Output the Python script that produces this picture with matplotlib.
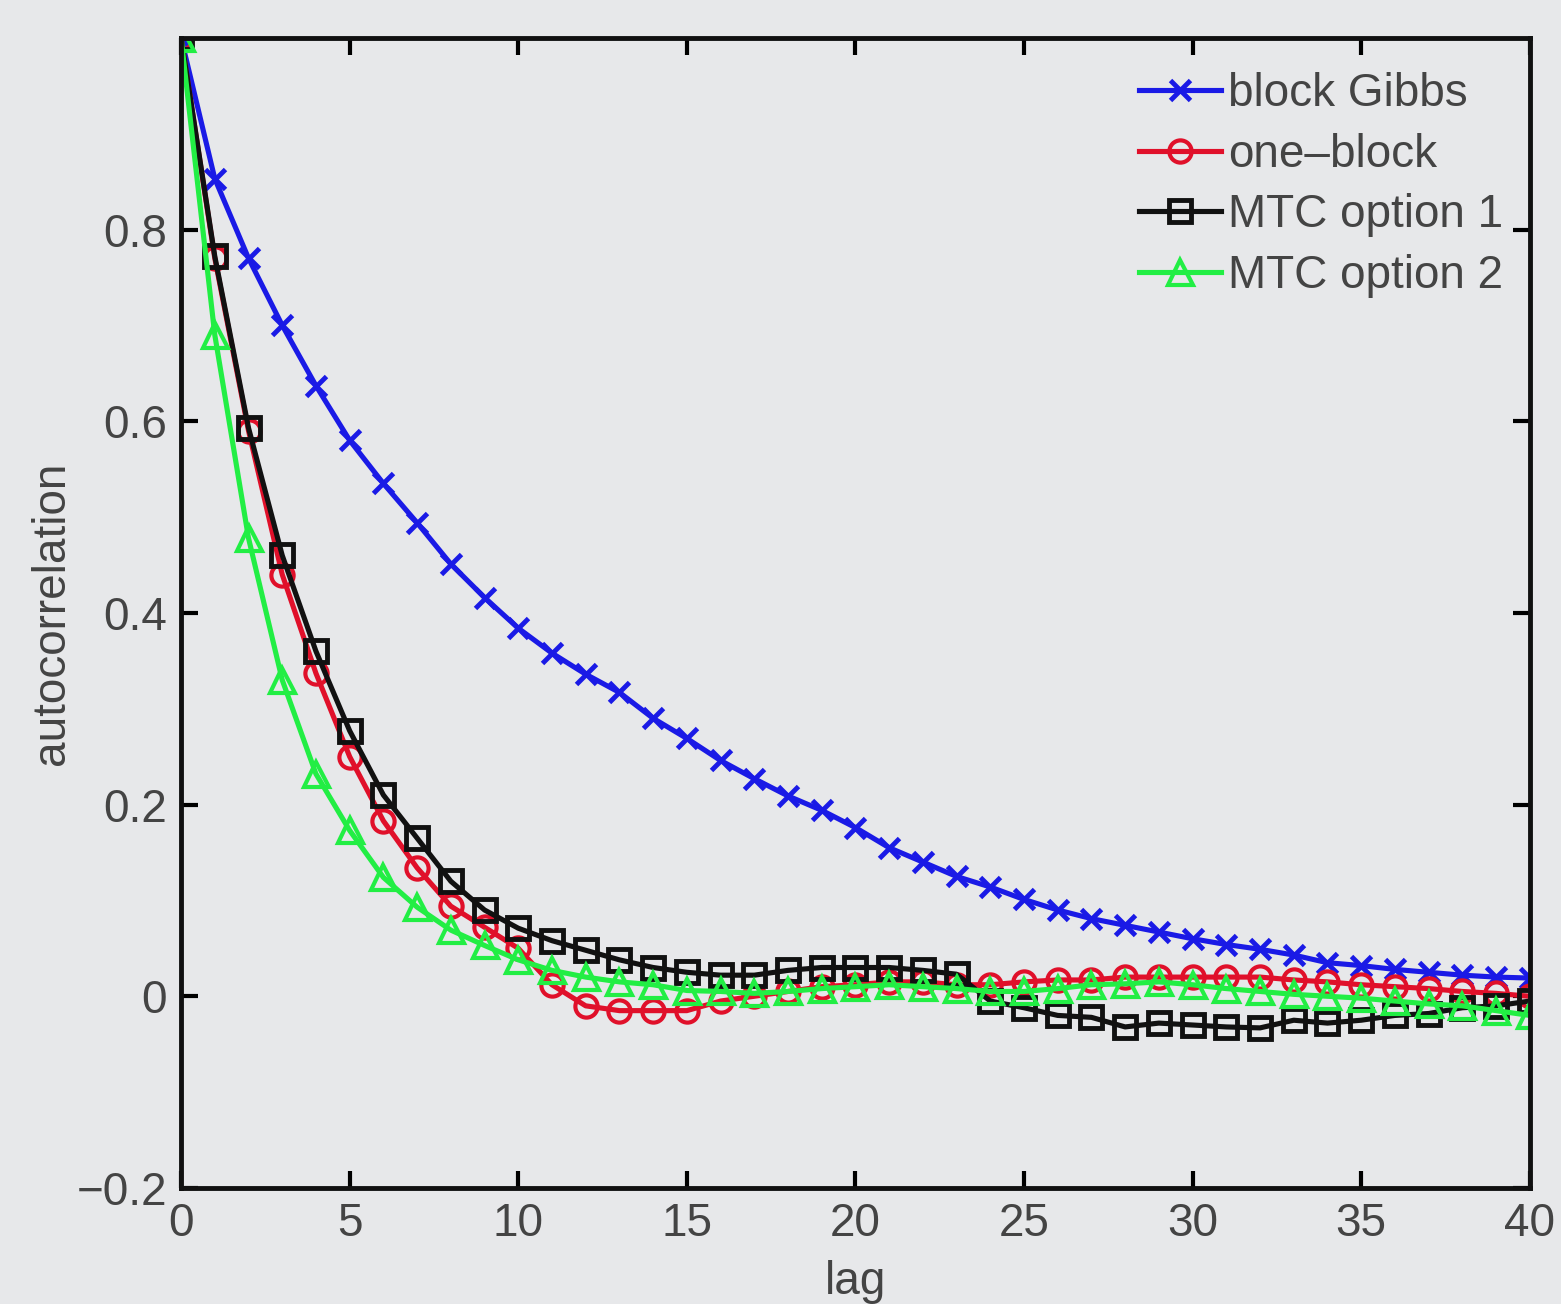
import matplotlib.pyplot as plt
from matplotlib.ticker import FuncFormatter

# === Data ===
lags = list(range(41))

block_gibbs = [1.0, 0.853, 0.77, 0.70, 0.637, 0.58, 0.535, 0.494, 0.451, 0.416,
               0.384, 0.358, 0.336, 0.317, 0.29, 0.269, 0.246, 0.227, 0.209, 0.194,
               0.176, 0.155, 0.14, 0.125, 0.114, 0.101, 0.09, 0.081, 0.074, 0.067,
               0.06, 0.054, 0.049, 0.043, 0.035, 0.032, 0.028, 0.025, 0.022, 0.02, 0.019]

one_block = [1.0, 0.77, 0.59, 0.44, 0.337, 0.25, 0.183, 0.134, 0.094, 0.072,
             0.05, 0.012, -0.01, -0.015, -0.015, -0.015, -0.005, 0.0, 0.005, 0.01,
             0.012, 0.015, 0.015, 0.012, 0.012, 0.015, 0.017, 0.017, 0.02, 0.02,
             0.02, 0.02, 0.02, 0.017, 0.015, 0.012, 0.01, 0.008, 0.005, 0.003, 0.0]

mtc_option1 = [1.0, 0.772, 0.593, 0.46, 0.36, 0.277, 0.21, 0.165, 0.12, 0.09,
               0.071, 0.058, 0.048, 0.038, 0.03, 0.025, 0.022, 0.022, 0.027, 0.03,
               0.03, 0.03, 0.027, 0.023, -0.005, -0.012, -0.02, -0.022, -0.032, -0.028,
               -0.03, -0.032, -0.033, -0.025, -0.028, -0.025, -0.02, -0.018, -0.012, -0.01, -0.005]

mtc_option2 = [1.0, 0.69, 0.478, 0.33, 0.232, 0.173, 0.124, 0.093, 0.069, 0.053,
               0.038, 0.027, 0.02, 0.015, 0.012, 0.006, 0.005, 0.003, 0.005, 0.008,
               0.01, 0.012, 0.01, 0.008, 0.005, 0.005, 0.008, 0.012, 0.013, 0.015,
               0.012, 0.008, 0.005, 0.002, 0.0, -0.002, -0.005, -0.008, -0.01, -0.015, -0.02]

labels = ['block Gibbs', 'one\u2013block', 'MTC option 1', 'MTC option 2']

# === Plot ===
bg = '#e7e8ea'
txt = '#444444'
plt.rcParams['font.family'] = ['Liberation Sans', 'DejaVu Sans']

fig = plt.figure(figsize=(15.61, 13.04), dpi=100, facecolor=bg)
ax = fig.add_axes([0.116, 0.089, 0.864, 0.882], facecolor=bg)

ax.plot(lags, block_gibbs, color='#1a1ae6', lw=3.7, marker='x', ms=14, mew=3.5,
        label=labels[0])
ax.plot(lags, one_block, color='#e0102a', lw=3.7, marker='o', ms=16, mew=3,
        mfc='none', label=labels[1])
ax.plot(lags, mtc_option1, color='#111111', lw=3.7, marker='s', ms=16, mew=3.5,
        mfc='none', label=labels[2])
ax.plot(lags, mtc_option2, color='#22ee44', lw=3.7, marker='^', ms=18, mew=3,
        mfc='none', label=labels[3])

ax.set_xlim(0, 40)
ax.set_ylim(-0.2, 1.0)
ax.set_xticks(range(0, 41, 5))
ax.set_yticks([-0.2, 0, 0.2, 0.4, 0.6, 0.8])
ax.yaxis.set_major_formatter(FuncFormatter(
    lambda v, p: '0' if abs(v) < 1e-9 else ('\u2212' if v < 0 else '') + ('%g' % abs(v))))

ax.tick_params(direction='in', length=12, width=3, top=True, right=True,
               labelsize=33, labelcolor=txt, pad=10)
for sp in ax.spines.values():
    sp.set_linewidth(3.5)
    sp.set_color('#111111')

ax.set_xlabel('lag', fontsize=33, color=txt, labelpad=10)
ax.set_ylabel('autocorrelation', fontsize=33, color=txt, labelpad=2)

leg = ax.legend(loc='upper right', frameon=False, fontsize=33, handlelength=1.8,
                handletextpad=0.15, labelspacing=0.36, borderaxespad=0.3,
                bbox_to_anchor=(1.004, 0.998))
for t in leg.get_texts():
    t.set_color(txt)

fig.savefig('out.png', dpi=100, facecolor=bg)
